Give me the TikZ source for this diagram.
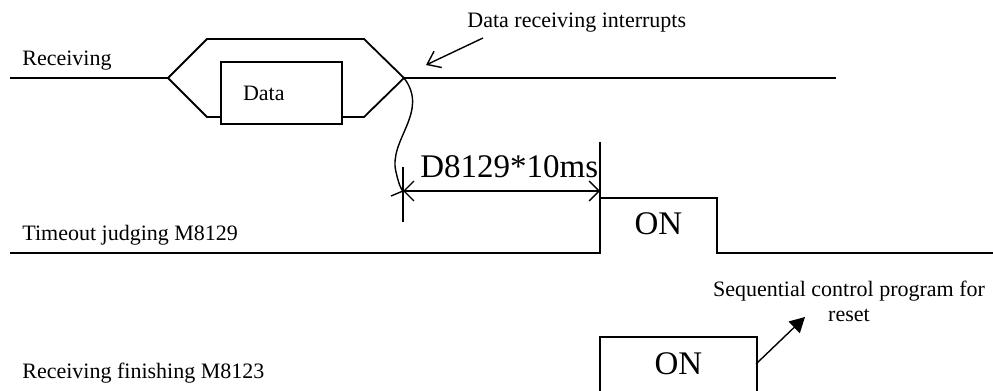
\documentclass[tikz,border=0pt]{standalone}
\usepackage{fontspec}
\setmainfont{Liberation Serif}
\usetikzlibrary{arrows.meta,positioning}

\begin{document}
\begin{tikzpicture}[
  x=0.5pt, y=-0.5pt,
  sig/.style={line width=0.9pt},
  ann/.style={line width=0.7pt},
  lab/.style={font=\fontsize{11}{12.5}\selectfont, inner sep=0pt},
  big/.style={font=\fontsize{16.5}{18}\selectfont, inner sep=0pt},
  dim/.style={ann, {Straight Barb[length=5pt,width=10pt]}-{Straight Barb[length=5pt,width=10pt]}},
  note/.style={ann, -{Straight Barb[length=6pt,width=9pt]}},
  push/.style={ann, -{Triangle[length=7.5pt,width=8pt]}}
]
\useasboundingbox (0,0) rectangle (993,391);

% signal names
\node[lab, anchor=base west] (rxname) at (22,65) {Receiving};
\node[lab, anchor=base west] (toname) at (22,240) {Timeout judging M8129};
\node[lab, anchor=base west] (fnname) at (22,378) {Receiving finishing M8123};

% receiving line with data frame
\coordinate (hexL) at (168,78);
\coordinate (hexR) at (404,78);
\node[draw, sig, lab, minimum height=31pt, inner xsep=11pt, text width=38.5pt,
      align=left] (data) at (281.5,93) {Data};
\draw[sig] (10,78) -- (hexL) -- (207,39) -- (364,39) -- (hexR) -- (364,117)
  -- (data.east |- 0,117);
\draw[sig] (data.west |- 0,117) -- (207,117) -- (hexL);
\draw[sig] (hexR) -- (836,78);

\node[lab, anchor=base west] (intlab) at (467,27) {Data receiving interrupts};
\coordinate (intfrom) at (483,38);
\coordinate (intto) at (426,65);
\draw[note] (intfrom) -- (intto);

% timeout judging
\draw[sig] (10,253) -| (600,142);
\draw[sig] (600,198) -| (717,253) -- (993,253);
\node[big] (toon) at (658.5,224) {ON};

\coordinate (dimL) at (403,191);
\coordinate (dimR) at (600,191);
\draw[ann] (403,167) -- (403,222);
\draw[dim] (dimL) -- (dimR);
\node[big, anchor=base west] (dimlab) at (420,177) {D8129*10ms};
\draw[ann] (hexR) .. controls (430,112) and (388,140) .. (396,172)
  .. controls (399,185) and (401,189) .. (dimL) -- (391,196);

% receiving finishing
\draw[sig] (600,391) |- (757,337) -- (757,391);
\node[big] (fnon) at (678.5,364) {ON};
\coordinate (rstfrom) at (756,364);
\node[lab, align=center, anchor=base] (rstlab) at (849,321)
  {Sequential control program for\\reset};
\coordinate (rstto) at (805,317);
\draw[push] (rstfrom) -- (rstto);
\end{tikzpicture}
\end{document}
